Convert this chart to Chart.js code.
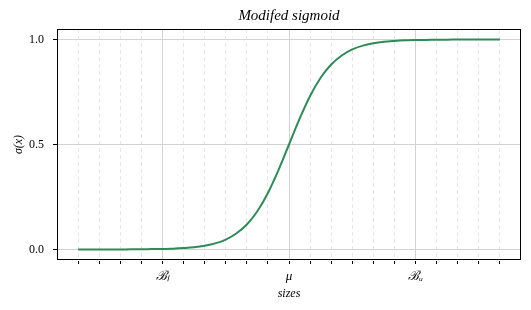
<!DOCTYPE html>
<html>
<head>
<meta charset="utf-8">
<script src="https://cdn.jsdelivr.net/npm/chart.js@4.4.1/dist/chart.umd.min.js"></script>
<style>
  body { margin: 0; background: #fff; }
  #wrap { width: 531px; height: 310px; }
</style>
</head>
<body>
<div id="wrap"><canvas id="sigmoidChart"></canvas></div>
<script>
// valores (x en pasos de 0.5, mu = 0)
const xs = [-10, -9.5, -9, -8.5, -8, -7.5, -7, -6.5, -6, -5.5, -5, -4.5, -4, -3.5, -3, -2.5, -2, -1.5, -1, -0.5,
            0, 0.5, 1, 1.5, 2, 2.5, 3, 3.5, 4, 4.5, 5, 5.5, 6, 6.5, 7, 7.5, 8, 8.5, 9, 9.5, 10];
const sigma = [0.000, 0.000, 0.000, 0.000, 0.000, 0.001, 0.001, 0.002, 0.002, 0.004, 0.007, 0.011, 0.018, 0.029, 0.047, 0.076, 0.119, 0.182, 0.269, 0.378,
               0.500, 0.622, 0.731, 0.818, 0.881, 0.924, 0.953, 0.971, 0.982, 0.989, 0.993, 0.996, 0.998, 0.998, 0.999, 0.999, 1.000, 1.000, 1.000, 1.000, 1.000];

const majorTicks = [-6, 0, 6];
const tickLabels = ['ℬₗ', 'μ', 'ℬᵤ'];
const minorTicks = [-10, -9, -8, -7, -6, -5, -4, -3, -2, -1, 0, 1, 2, 3, 4, 5, 6, 7, 8, 9, 10];
const yTicks = [0, 0.5, 1];

const serif = 'Liberation Serif';

// marco negro alrededor del área del gráfico
const frame = {
    id: 'frame',
    afterDraw(chart) {
        const { ctx, chartArea: a } = chart;
        ctx.save();
        ctx.setLineDash([]);
        ctx.strokeStyle = '#000';
        ctx.lineWidth = 1;
        ctx.strokeRect(Math.round(a.left) + 0.5, Math.round(a.top) + 0.5,
                       Math.round(a.right - a.left) - 1, Math.round(a.bottom - a.top) - 1);
        ctx.restore();
    }
};

const ctx = document.getElementById('sigmoidChart').getContext('2d');
const sigmoidChart = new Chart(ctx, {
    type: 'line',
    data: {
        datasets: [{
            data: xs.map((x, i) => ({ x: x, y: sigma[i] })),
            borderColor: '#2e8b57',
            borderWidth: 2,
            pointRadius: 0,
            cubicInterpolationMode: 'monotone',
            fill: false
        }]
    },
    options: {
        responsive: true,
        maintainAspectRatio: false,
        animation: false,
        layout: { padding: { left: 0, right: 10, top: 0, bottom: 0 } },
        plugins: {
            legend: { display: false },
            tooltip: { enabled: false },
            title: {
                display: true,
                text: 'Modifed sigmoid',
                fullSize: false,
                color: '#000',
                font: { family: serif, size: 15, style: 'italic', weight: 'normal', lineHeight: 1 },
                padding: { top: 9, bottom: 5 }
            }
        },
        scales: {
            x: {
                type: 'linear',
                min: -11,
                max: 11,
                afterBuildTicks: s => { s.ticks = minorTicks.map(v => ({ value: v, major: majorTicks.includes(v) })); },
                afterFit: s => { s.height = 50; },
                ticks: {
                    autoSkip: false,
                    maxRotation: 0,
                    padding: 5,
                    color: '#000',
                    font: { family: serif, size: 13, style: 'italic' },
                    callback: v => {
                        const i = majorTicks.indexOf(v);
                        return i >= 0 ? tickLabels[i] : '';
                    }
                },
                grid: {
                    color: c => (c.tick && majorTicks.includes(c.tick.value)) ? '#d2d2d2' : '#e6e6e6',
                    lineWidth: 1,
                    tickColor: '#000',
                    tickLength: 4
                },
                border: {
                    display: true,
                    color: 'rgba(0,0,0,0)',
                    width: 1,
                    dash: c => (c.tick && !majorTicks.includes(c.tick.value)) ? [4, 3] : []
                },
                title: {
                    display: true,
                    text: 'sizes',
                    color: '#000',
                    font: { family: serif, size: 12, style: 'italic' },
                    padding: { top: 0, bottom: 9 }
                }
            },
            y: {
                min: -0.05,
                max: 1.05,
                afterBuildTicks: s => { s.ticks = yTicks.map(v => ({ value: v })); },
                afterFit: s => { s.width = 57; },
                ticks: {
                    padding: 9,
                    color: '#000',
                    font: { family: serif, size: 12 },
                    callback: v => v.toFixed(1)
                },
                grid: {
                    color: '#d2d2d2',
                    lineWidth: 1,
                    tickColor: '#000',
                    tickLength: 4
                },
                border: { display: true, color: 'rgba(0,0,0,0)', width: 1 },
                title: {
                    display: true,
                    text: 'σ(x)',
                    color: '#000',
                    font: { family: serif, size: 12, style: 'italic' },
                    padding: { top: 12, bottom: 0 }
                }
            }
        }
    },
    plugins: [frame]
});
</script>
</body>
</html>
